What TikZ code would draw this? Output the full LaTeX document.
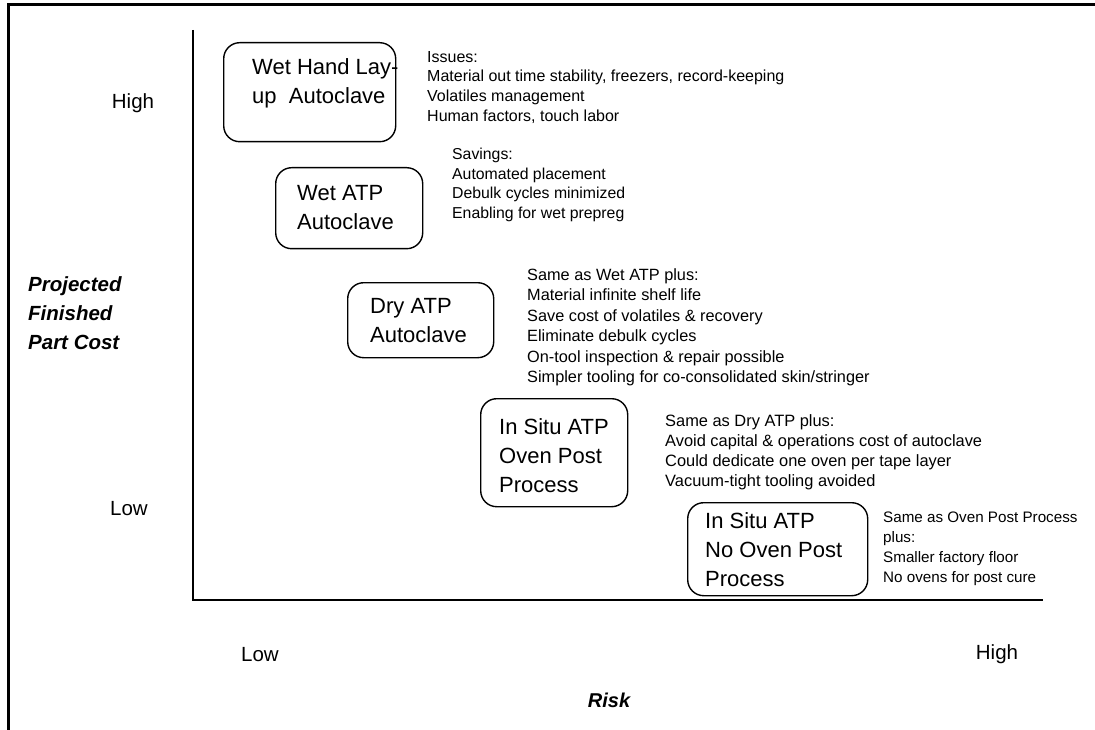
\documentclass[tikz,border=0pt]{standalone}
\usepackage{fontspec}
\setmainfont{Liberation Sans}
\begin{document}
\begin{tikzpicture}[x=1pt,y=-1pt,
  frame/.style={line width=3pt},
  axis/.style={line width=1.6pt},
  box/.style={draw, line width=1.4pt, rounded corners=16pt, inner sep=0pt, anchor=north west},
  boxtext/.style={anchor=north west, inner sep=0pt, align=left, font=\fontsize{22}{29}\selectfont},
  note/.style={anchor=north west, inner sep=0pt, align=left, font=\fontsize{15.8}{20.2}\selectfont},
  lab/.style={inner sep=0pt, font=\fontsize{20.5}{24}\selectfont},
  ttl/.style={anchor=north west, inner sep=0pt, align=left, font=\fontsize{20.5}{29}\selectfont\bfseries\itshape}]
\useasboundingbox (0,0) rectangle (1095,730);

% page frame (top and left edges)
\coordinate (fBL) at (8,730);
\coordinate (fTL) at (8,5);
\coordinate (fTR) at (1095,5);
\draw[frame] (fBL) -- (fTL) -- (fTR);

% axes
\coordinate (ytop) at (193,30);
\coordinate (O) at (193,600);
\coordinate (xend) at (1043,600);
\draw[axis] (ytop) -- (O) -- (xend);

% axis labels
\node[lab] (yhigh) at (133,103) {High};
\node[lab] (ylow) at (129,509) {Low};
\node[lab] (xlow) at (260,655) {Low};
\node[lab] (xhigh) at (997,654) {High};
\node[lab, font=\fontsize{20}{24}\selectfont\bfseries\itshape] (risk) at (609,700) {Risk};
\node[ttl] (ytitle) at (28,276) {Projected\\Finished\\Part Cost};

% boxes
\node[box, minimum width=172, minimum height=99] (b1) at (223,42) {};
\node[box, minimum width=147, minimum height=81] (b2) at (275,167) {};
\node[box, minimum width=146, minimum height=75] (b3) at (347,282) {};
\node[box, minimum width=147, minimum height=108] (b4) at (480,398) {};
\node[box, minimum width=180, minimum height=93] (b5) at (687,502) {};

% box texts
\node[boxtext] (t1) at (252,58) {Wet Hand Lay-\\up\ \ Autoclave};
\node[boxtext] (t2) at (297,185) {Wet ATP\\Autoclave};
\node[boxtext] (t3) at (370,298) {Dry ATP\\Autoclave};
\node[boxtext] (t4) at (499,418) {In Situ ATP\\Oven Post\\Process};
\node[boxtext] (t5) at (705,512) {In Situ ATP\\No Oven Post\\Process};

% notes
\node[note, font=\fontsize{16}{19.7}\selectfont] (n1) at (427,51) {Issues:\\Material out time stability, freezers, record-keeping\\Volatiles management\\Human factors, touch labor};
\node[note, font=\fontsize{15.8}{19.5}\selectfont] (n2) at (452,148) {Savings:\\Automated placement\\Debulk cycles minimized\\Enabling for wet prepreg};
\node[note, font=\fontsize{16.3}{20.5}\selectfont] (n3) at (527,268) {Same as Wet ATP plus:\\Material infinite shelf life\\Save cost of volatiles \& recovery\\Eliminate debulk cycles\\On-tool inspection \& repair possible\\Simpler tooling for co-consolidated skin/stringer};
\node[note, font=\fontsize{16.4}{20.2}\selectfont] (n4) at (665,414) {Same as Dry ATP plus:\\Avoid capital \& operations cost of autoclave\\Could dedicate one oven per tape layer\\Vacuum-tight tooling avoided};
\node[note, font=\fontsize{15.2}{20}\selectfont] (n5) at (883,512) {Same as Oven Post Process\\plus:\\Smaller factory floor\\No ovens for post cure};
\end{tikzpicture}
\end{document}
